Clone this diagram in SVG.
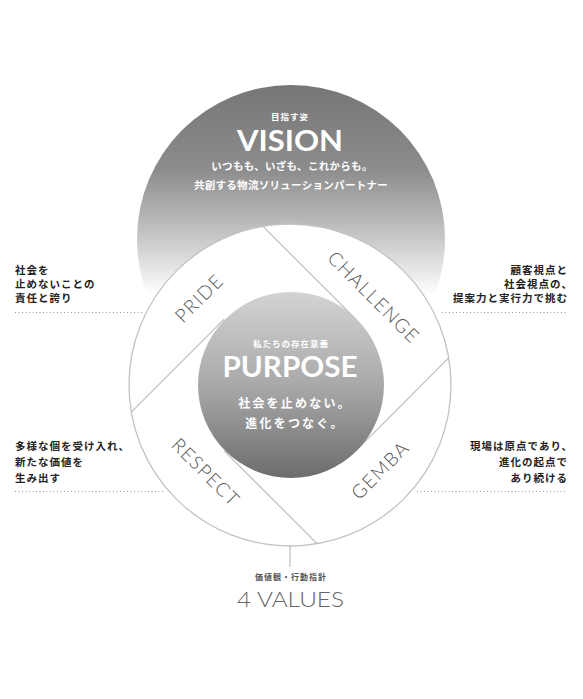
<svg xmlns="http://www.w3.org/2000/svg" width="583" height="699" viewBox="0 0 583 699">
<defs>
<linearGradient id="gVision" gradientUnits="userSpaceOnUse" x1="0" y1="85" x2="0" y2="295">
<stop offset="0" stop-color="#767676"/>
<stop offset="0.4" stop-color="#8c8c8c"/>
<stop offset="0.72" stop-color="#c6c6c6"/>
<stop offset="1" stop-color="#ffffff"/>
</linearGradient>
<linearGradient id="gPurpose" gradientUnits="userSpaceOnUse" x1="0" y1="292" x2="0" y2="478">
<stop offset="0" stop-color="#d3d3d3"/>
<stop offset="0.5" stop-color="#a9a9a9"/>
<stop offset="1" stop-color="#6c6c6c"/>
</linearGradient>
<style>
.jpw{font-family:"Noto Sans CJK JP","Noto Sans",sans-serif;font-weight:700;fill:#ffffff}
.side{font-family:"Noto Sans CJK JP","Noto Sans",sans-serif;font-weight:700;fill:#222222;font-size:10.5px;letter-spacing:1px}
.title{font-family:Lato,"Liberation Sans",sans-serif;font-weight:700;fill:#ffffff;font-size:28px}
.val{font-family:Lato,"Liberation Sans",sans-serif;font-weight:300;fill:#555555;font-size:19px;letter-spacing:1.3px}
.dots{stroke:#9a9a9a;stroke-width:1;stroke-dasharray:1 2.5;fill:none}
.div{stroke:#bdbdbd;stroke-width:1.2;fill:none}
</style>
</defs>
<rect width="583" height="699" fill="#ffffff"/>

<g id="vision">
<circle cx="291" cy="239" r="154" fill="url(#gVision)"/>
</g>

<g id="values-ring">
<circle cx="290" cy="385" r="161" fill="#ffffff" stroke="#c2c2c2" stroke-width="1.3"/>
</g>

<g id="connectors">
<line class="div" x1="263" y1="226.3" x2="355.8" y2="319.2"/>
<line class="div" x1="448.7" y1="357.9" x2="355.8" y2="450.8"/>
<line class="div" x1="317.1" y1="543.7" x2="224.2" y2="450.8"/>
<line class="div" x1="131.3" y1="412.1" x2="224.2" y2="319.2"/>
<line class="div" x1="290" y1="546" x2="290" y2="567"/>
</g>

<g id="purpose">
<circle cx="291" cy="385" r="93" fill="url(#gPurpose)"/>
<text class="jpw" x="291" y="347" font-size="8.5" letter-spacing="1" text-anchor="middle">私たちの存在意義</text>
<text class="title" x="290" y="377" text-anchor="middle" textLength="135" lengthAdjust="spacingAndGlyphs">PURPOSE</text>
<text class="jpw" x="295" y="408" font-size="12" letter-spacing="2.2" text-anchor="middle">社会を止めない。</text>
<text class="jpw" x="295" y="428" font-size="12" letter-spacing="2.2" text-anchor="middle">進化をつなぐ。</text>
</g>

<g id="vision-text">
<text class="jpw" x="290" y="120" font-size="8.5" letter-spacing="1" text-anchor="middle">目指す姿</text>
<text class="title" x="290" y="151" text-anchor="middle" textLength="106" lengthAdjust="spacingAndGlyphs">VISION</text>
<text class="jpw" x="292" y="170" font-size="10.5" letter-spacing="0.3" text-anchor="middle">いつもも、いざも、これからも。</text>
<text class="jpw" x="291" y="189" font-size="10.5" letter-spacing="0.3" text-anchor="middle">共創する物流ソリューションパートナー</text>
</g>

<g id="pride">
<text class="val" transform="translate(199,298) rotate(-45)" x="0" y="7" text-anchor="middle">PRIDE</text>
</g>
<g id="challenge">
<text class="val" transform="translate(374,297) rotate(45)" x="0" y="7" text-anchor="middle">CHALLENGE</text>
</g>
<g id="respect">
<text class="val" transform="translate(206,472) rotate(45)" x="0" y="7" text-anchor="middle">RESPECT</text>
</g>
<g id="gemba">
<text class="val" transform="translate(380,470) rotate(-45)" x="0" y="7" text-anchor="middle">GEMBA</text>
</g>

<g id="note-pride">
<text class="side" x="15" y="274">社会を</text>
<text class="side" x="15" y="288">止めないことの</text>
<text class="side" x="15" y="302">責任と誇り</text>
<line class="dots" x1="15" y1="312.5" x2="142" y2="312.5"/>
</g>

<g id="note-challenge">
<text class="side" x="568" y="274" text-anchor="end">顧客視点と</text>
<text class="side" x="573" y="288" text-anchor="end">社会視点の、</text>
<text class="side" x="568" y="302" text-anchor="end">提案力と実行力で挑む</text>
<line class="dots" x1="442" y1="312.5" x2="567" y2="312.5"/>
</g>

<g id="note-respect">
<text class="side" x="15" y="450">多様な個を受け入れ、</text>
<text class="side" x="15" y="466">新たな価値を</text>
<text class="side" x="15" y="482">生み出す</text>
<line class="dots" x1="15" y1="491.5" x2="165" y2="491.5"/>
</g>

<g id="note-gemba">
<text class="side" x="573" y="450" text-anchor="end">現場は原点であり、</text>
<text class="side" x="568" y="466" text-anchor="end">進化の起点で</text>
<text class="side" x="568" y="482" text-anchor="end">あり続ける</text>
<line class="dots" x1="417" y1="491.5" x2="567" y2="491.5"/>
</g>

<g id="values-label">
<text x="291" y="580" font-family="Noto Sans CJK JP, Noto Sans, sans-serif" font-weight="700" font-size="8" letter-spacing="1" fill="#555555" text-anchor="middle">価値観・行動指針</text>
<text x="290.5" y="607" font-family="Lato, Liberation Sans, sans-serif" font-weight="300" font-size="21" fill="#666666" text-anchor="middle" textLength="107" lengthAdjust="spacingAndGlyphs">4 VALUES</text>
</g>
</svg>
